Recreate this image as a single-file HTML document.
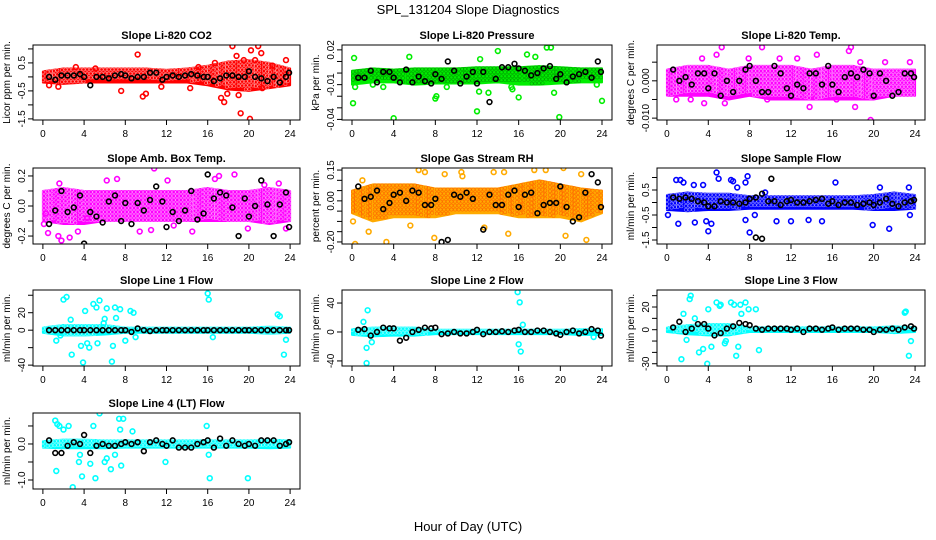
<!DOCTYPE html>
<html><head><meta charset="utf-8"><style>
html,body{margin:0;padding:0;background:#fff;}
svg{display:block;font-family:"Liberation Sans",sans-serif;}
</style></head><body>
<svg id="chart" width="936" height="540" viewBox="0 0 936 540" xmlns="http://www.w3.org/2000/svg">
<text x="468" y="14" text-anchor="middle" font-size="13">SPL_131204  Slope Diagnostics</text>
<text x="468" y="531" text-anchor="middle" font-size="13">Hour of Day (UTC)</text>
</svg>
<script>
const xTicks = [0,4,8,12,16,20,24];
const bandHours = [0,2,4,6,8,10,12,14,16,18,20,22,24];
const blackHours = [0.6,1.2,1.8,2.4,3.0,3.6,4.0,4.6,5.2,5.8,6.4,7.0,7.6,8.0,8.6,9.2,9.8,10.4,11.0,11.6,12.0,12.6,13.2,13.8,14.4,15.0,15.6,16.0,16.6,17.2,17.8,18.4,19.0,19.6,20.0,20.6,21.2,21.8,22.4,23.0,23.6,23.9];

const titles = ["Slope Li-820 CO2","Slope Li-820 Pressure","Slope Li-820 Temp.","Slope Amb. Box Temp.","Slope Gas Stream RH","Slope Sample Flow","Slope Line 1 Flow","Slope Line 2 Flow","Slope Line 3 Flow","Slope Line 4 (LT) Flow"];
const yLabels = ["Licor ppm per min.","kPa per min.","degrees C per min.","degrees C per min.","percent per min.","ml/min per min.","ml/min per min.","ml/min per min.","ml/min per min.","ml/min per min."];
const yLims = [[-1.54,1.14],[-0.0405,0.0242],[-0.0105,0.0096],[-0.253,0.253],[-0.21,0.16],[-1.66,1.38],[-41,46],[-47,58],[-32,35],[-1.25,0.86]];
const yTickVals = [[-1.5,-1,-0.5,0,0.5,1],[-0.04,-0.03,-0.02,-0.01,0,0.01,0.02],[-0.01,-0.005,0,0.005],[-0.2,-0.1,0,0.1,0.2],[-0.2,-0.15,-0.1,-0.05,0,0.05,0.1,0.15],[-1.5,-1,-0.5,0,0.5,1],[-40,-20,0,20,40],[-40,0,40],[-30,-20,-10,0,10,20,30],[-1,-0.5,0,0.5]];
const yTickText = [["-1.5","","-0.5","","0.5",""],["-0.04","","","-0.01","","","0.02"],["-0.010","","0.000",""],["-0.2","","0.0","","0.2"],["-0.20","","","","0.00","","","0.15"],["-1.5","","-0.5","","0.5",""],["-40","","0","20",""],["-40","0","40"],["-30","","","0","","20",""],["-1.0","","0.0",""]];
const colors = ["#ff0000","#00ee00","#ff00ff","#ff00ff","#ffaa00","#0000ff","#00ffff","#00ffff","#00ffff","#00ffff"];
const bandLo = [
[-0.2,-0.25,-0.2,-0.2,-0.2,-0.2,-0.2,-0.2,-0.3,-0.45,-0.5,-0.4,-0.3],
[-0.01,-0.008,-0.008,-0.01,-0.009,-0.009,-0.009,-0.008,-0.01,-0.01,-0.009,-0.008,-0.008],
[-0.004,-0.004,-0.004,-0.005,-0.004,-0.005,-0.005,-0.005,-0.005,-0.005,-0.005,-0.004,-0.004],
[-0.1,-0.12,-0.12,-0.1,-0.1,-0.1,-0.1,-0.1,-0.1,-0.1,-0.1,-0.12,-0.1],
[-0.06,-0.1,-0.08,-0.08,-0.08,-0.06,-0.06,-0.06,-0.08,-0.08,-0.08,-0.1,-0.06],
[-0.3,-0.35,-0.3,-0.3,-0.25,-0.25,-0.25,-0.25,-0.25,-0.25,-0.3,-0.3,-0.25],
[-3,-6,-6,-5,-3,-3,-3,-3,-3,-3,-3,-4,-3],
[-4,-6,-5,-5,-3,-3,-3,-3,-3,-3,-3,-4,-4],
[-2,-4,-5,-5,-2,-2,-2,-2,-2,-2,-2,-3,-2],
[-0.1,-0.12,-0.12,-0.12,-0.1,-0.1,-0.1,-0.1,-0.1,-0.1,-0.1,-0.12,-0.1]];
const bandHi = [
[0.2,0.3,0.3,0.3,0.3,0.3,0.25,0.3,0.4,0.55,0.6,0.5,0.3],
[0.002,0.004,0.003,0.004,0.004,0.004,0.005,0.005,0.005,0.006,0.005,0.004,0.004],
[0.003,0.004,0.004,0.003,0.004,0.004,0.004,0.003,0.004,0.004,0.003,0.003,0.003],
[0.1,0.12,0.1,0.1,0.1,0.1,0.1,0.1,0.12,0.1,0.1,0.12,0.1],
[0.05,0.08,0.08,0.08,0.06,0.06,0.06,0.06,0.08,0.1,0.08,0.06,0.05],
[0.3,0.4,0.35,0.35,0.25,0.25,0.25,0.25,0.25,0.25,0.3,0.4,0.3],
[3,6,6,6,3,3,3,3,3,3,3,4,3],
[4,6,6,6,3,3,3,3,3,3,3,4,4],
[2,4,5,5,2,2,2,2,2,2,2,3,2],
[0.08,0.12,0.12,0.1,0.1,0.1,0.1,0.1,0.1,0.1,0.1,0.12,0.1]];
const outliers = [
[[9.2,0.8],[0.6,-0.3],[1.5,-0.35],[7.6,-0.5],[9.7,-0.7],[10,-0.6],[17.3,-0.75],[17.6,-0.9],[18.4,1.1],[19,-0.65],[19.2,-1.3],[20.1,-1.5],[20.2,0.95],[20.9,1.1],[21.2,0.85],[19.5,0.6],[16.7,0.5],[23.6,0.6],[18.8,0.75],[20.6,0.6],[15.1,0.35],[22.3,0.4],[5.1,0.3],[3.2,0.35],[17.9,-0.6],[14.3,-0.4],[11.5,-0.35],[21.3,-0.4]],
[[0.1,-0.026],[0.2,0.013],[4,-0.039],[5.5,0.014],[8,-0.022],[8.1,-0.02],[12,-0.033],[12.3,0.012],[14,0.019],[16.8,0.016],[17.6,0.014],[18.7,0.022],[19.1,0.022],[19.9,-0.038],[24,-0.024],[16,-0.021],[19.4,-0.017],[12.2,-0.016],[13.1,-0.017],[0.3,-0.012],[2,-0.01],[3,-0.012],[9.1,-0.012],[15.3,-0.012],[15.4,-0.014],[23.5,-0.01]],
[[5.3,0.009],[9.2,0.009],[14.5,0.007],[17.6,0.008],[17.8,0.009],[19.7,-0.0105],[13.8,-0.007],[18.2,-0.007],[0.9,-0.005],[2.3,-0.005],[5.6,-0.006],[3.6,-0.006],[4.8,0.007],[12.6,0.006],[23.5,0.005],[7.9,0.006],[9.7,-0.005],[16.4,-0.005],[10.9,0.006],[3.4,0.006],[18.7,0.005],[21.1,0.005]],
[[10.8,0.25],[1.8,-0.23],[0.5,-0.18],[0.1,-0.12],[2.6,-0.21],[3.4,-0.17],[1.5,-0.2],[7.2,0.18],[17.1,0.2],[18.6,0.21],[16.7,0.18],[14.5,-0.17],[19.9,-0.15],[12.1,0.17],[23.6,-0.15],[6.2,0.17],[1.6,0.15],[4.3,-0.08],[9.4,-0.17],[10.5,-0.16],[22.9,0.15],[21.5,0.14],[0.3,-0.05],[12.7,-0.13]],
[[0.3,-0.21],[1.0,0.1],[3.3,-0.2],[6.4,0.15],[7,0.14],[7.9,-0.18],[8.9,0.13],[10.5,0.14],[13.6,0.14],[14.6,0.14],[15.3,-0.23],[15,-0.16],[17.5,0.15],[18.6,0.15],[20.3,0.16],[20.5,-0.17],[22.5,-0.19],[12.7,-0.13],[5.6,-0.12],[1.6,-0.15],[0.1,-0.1],[22,0.13],[10.6,0.12]],
[[0.9,0.9],[1.3,0.9],[1.6,0.8],[2.6,0.7],[3.5,0.7],[4.8,1.2],[5,0.95],[6.2,0.9],[6.4,0.85],[7.8,1.05],[7.6,0.8],[9.5,0.4],[16.3,0.8],[20.6,0.6],[4,-1.15],[8,-1.2],[3.8,-0.75],[4.3,-0.85],[2.7,-0.8],[1.1,-0.85],[10.6,-0.75],[12,-0.75],[13.7,-0.7],[15,-0.75],[19.9,-0.9],[21.5,-1.05],[0.1,-0.5],[7.6,-0.7],[8.5,-0.5],[23.4,0.6],[23.5,-0.5],[6.8,0.6]],
[[2,35],[2.3,38],[2.7,12],[3.7,-18],[3.9,-37],[2.8,-28],[4.1,22],[4.5,-20],[4.9,30],[5.2,26],[5.5,34],[6.2,25],[6.7,-36],[6.8,-18],[7,26],[7.5,24],[8.5,22],[8.8,20],[8,-12],[9,-8],[16,42],[16.1,35],[16.5,-8],[22.8,18],[23,16],[23.4,-28],[23.6,-11],[1.3,-12],[1.7,-6],[5.9,8],[6,13],[7.1,14],[4.3,-15],[5.3,-15]],
[[1.4,-22],[1.4,-43],[1.5,30],[1.1,14],[1.9,-14],[15.9,55],[16.1,41],[16,-17],[16.2,-27],[16.4,10],[23.2,-7]],
[[1.4,-26],[1.6,14],[2.2,27],[2.3,30],[2.7,10],[3.5,-17],[3.9,-30],[4,18],[4.3,-15],[4.8,24],[5.1,21],[5.2,22],[5.7,-10],[6.2,24],[6.5,22],[6.7,-23],[6.9,-15],[7.2,14],[7.1,22],[7.6,24],[7.9,18],[8.6,18],[8.9,-18],[1.9,-9],[23,15],[23.1,16],[23.4,-23],[23.6,-10],[3.1,-20],[5.6,-12]],
[[1.2,0.65],[1.4,0.55],[1.6,0.5],[2,0.4],[2.5,0.5],[3.8,-0.9],[3.5,-0.5],[2.9,-1.2],[1.3,-0.75],[4.6,-0.55],[5.1,-0.95],[5.5,0.85],[4.9,0.5],[6,-0.5],[6.2,-0.4],[6.6,-0.7],[7.4,0.7],[7.5,0.4],[7.6,-0.6],[7.8,0.7],[8.7,0.35],[11.9,-0.5],[15.9,0.5],[16.1,-0.3],[16.2,-0.95],[19.9,-0.95],[3.6,-0.3],[7,-0.3]]];
const blackVals = [
[0,-0.1,0.05,0.05,0.05,0.1,0,-0.3,0,0,-0.05,0.05,0.1,0.05,-0.05,0,0,0.15,0.15,-0.1,0,0.05,0,0.05,0.1,0.05,0,0,-0.15,-0.05,0.05,0.05,0,0,0.2,0,-0.05,-0.15,0,-0.2,0,0.15],
[-0.004,-0.004,0.002,-0.008,0.001,0.001,-0.004,-0.008,0.003,-0.008,-0.003,-0.007,-0.009,-0.001,-0.005,0.010,0.002,-0.009,-0.003,0.001,-0.009,0.001,-0.025,-0.005,0.005,0.005,0.008,0.004,0.002,-0.002,0,0.004,0.006,-0.005,-0.001,-0.008,-0.003,-0.001,0.001,-0.004,0.010,0.001],
[0.003,0,0.001,-0.001,0.002,0.002,-0.002,0.002,-0.004,0,-0.003,0,0.003,0.004,0,-0.003,-0.003,0.004,0.002,-0.002,-0.004,-0.001,-0.002,0.002,0.002,-0.001,0.004,-0.001,-0.003,0.001,0.002,0.001,0.003,0.002,-0.004,0.002,0,-0.004,-0.003,0.002,0.002,0.001],
[-0.12,-0.03,0.1,-0.04,-0.01,0.07,-0.25,-0.04,-0.07,-0.11,0.03,0.07,-0.1,0.02,-0.12,0.02,-0.03,0.04,0.13,0.03,-0.14,-0.04,-0.1,-0.03,0.1,-0.09,-0.05,0.21,0.05,0.09,0.07,-0.01,-0.2,0.05,-0.07,0,0.17,0.01,-0.2,0.01,0.09,-0.14],
[0.07,0.01,0.02,0.05,-0.04,-0.01,0.03,0.04,0,0.05,0.04,-0.02,-0.02,0.01,-0.2,-0.19,0.03,0.02,0.04,0.01,-0.24,-0.14,0.03,-0.02,-0.02,0.03,0.05,-0.03,0.03,0.04,-0.06,-0.02,-0.01,-0.01,0.07,-0.03,-0.1,-0.08,0.04,0.13,0.09,-0.03],
[0.2,0.15,0.2,0.15,0.05,0,-0.15,-0.15,0.05,0,0,-0.05,0,0.15,0.2,0.35,0.05,0.05,-0.1,0.05,0.1,0,0,0.05,0.1,0.15,-0.05,0.05,-0.1,0,0,-0.1,-0.05,0,-0.1,0,0.15,-0.05,-0.15,0,0.05,0.1],
[0,0,0,0,0,0,0,0,0,0,0,0,0,0,-2,2,0,-1,0,0,0,0,0,0,0,0,0,0,0,0,0,0,0,0,0,0,0,0,0,0,0,0],
[3,4,-5,0,6,5,5,-12,-8,0,3,6,5,6,-3,-2,0,-2,-2,0,3,-3,0,0,1,0,2,3,0,0,2,2,0,-2,-4,0,2,-2,0,4,2,-5],
[2,7,-2,1,5,5,1,-5,-3,1,3,6,5,4,1,0,1,1,1,1,0,1,-2,1,1,0,1,2,0,1,1,1,0,0,-2,0,0,1,0,2,3,1],
[0.1,-0.25,-0.25,-0.05,0.05,0,0.25,-0.25,-0.05,0,-0.05,-0.05,0,0.05,0,0.05,-0.2,0.05,0.1,0,-0.05,0.1,-0.1,-0.1,-0.1,0,0.05,0.1,-0.1,0.15,-0.05,0.1,0,-0.05,0,-0.05,0.1,0.1,0.1,-0.05,0,0.05]];
const blackExtra = [[],[],[],[],[],[[8.6,-1.4],[9.2,-1.45],[10.1,0.95]],[],[],[],[]];

const NS = "http://www.w3.org/2000/svg";
const svg = document.getElementById("chart");
const colBox = [[33,300],[342,612],[657,925]];
const rowBox = [[45,120],[168,244],[290,366],[413,489]];
function mk(tag, attrs, parent){const e=document.createElementNS(NS,tag);for(const k in attrs)e.setAttribute(k,attrs[k]);(parent||svg).appendChild(e);return e;}
function interp(arr,h){const i=Math.min(Math.floor(h/2),arr.length-2);const t=(h-bandHours[i])/2;return arr[i]*(1-t)+arr[i+1]*t;}

titles.forEach((title,p)=>{
  const c=p%3, r=Math.floor(p/3);
  const [L,R]=colBox[c], [T,B]=rowBox[r];
  const [y0,y1]=yLims[p];
  const xs=h=>L+(h+0.96)/25.92*(R-L);
  const ys=v=>B-(v-y0)/(y1-y0)*(B-T);
  const g=mk("g",{});
  
  
  const clip=mk("clipPath",{id:"clip"+p},g);
  mk("rect",{x:L,y:T,width:R-L,height:B-T},clip);
  const plot=mk("g",{"clip-path":"url(#clip"+p+")"},g);
  const col=colors[p];
  let pts=[];
  for(let h=0;h<=24.001;h+=0.5)pts.push(xs(h)+","+ys(interp(bandHi[p],h)));
  for(let h=24;h>=-0.001;h-=0.5)pts.push(xs(h)+","+ys(interp(bandLo[p],h)));
  const band=mk("polygon",{points:pts.join(" "),fill:col,stroke:col,"stroke-width":2,"stroke-linejoin":"round"},plot);
  
  
  const texture = p===1?"#006600":(p===4?"#ff3300":"#ffffff");
  for(let h=0;h<=24;h+=0.35){
    const lo=ys(interp(bandLo[p],h)), hi=ys(interp(bandHi[p],h));
    for(let yy=hi+1;yy<=lo-1;yy+=4){
      mk("circle",{cx:xs(h)+((yy|0)%2),cy:yy,r:1.6,fill:"none",stroke:texture,"stroke-width":0.6,opacity:0.55},plot);
    }
  }
  outliers[p].forEach(([h,v])=>{
    const m=mk("circle",{cx:xs(h),cy:ys(v),r:2.4,fill:"none",stroke:col,"stroke-width":1.6},plot);
    
    
  });
  blackVals[p].forEach((v,i)=>{
    if(i>=blackHours.length)return;
    const m=mk("circle",{cx:xs(blackHours[i]),cy:ys(v),r:2.4,fill:"none",stroke:"#000","stroke-width":1.6},plot);
    
    
  });
  blackExtra[p].forEach(([h,v])=>{
    const m=mk("circle",{cx:xs(h),cy:ys(v),r:2.4,fill:"none",stroke:"#000","stroke-width":1.6},plot);
    
    
  });
  const box=mk("rect",{x:L,y:T,width:R-L,height:B-T,fill:"none",stroke:"#000","stroke-width":1},g);
  
  
  const t=mk("text",{x:(L+R)/2,y:T-6,"text-anchor":"middle","font-size":"11","font-weight":"bold"},g);
  t.textContent=title;
  
  
  xTicks.forEach(h=>{
    mk("line",{x1:xs(h),x2:xs(h),y1:B,y2:B+5,stroke:"#000"},g);
    const tx=mk("text",{x:xs(h),y:B+17,"text-anchor":"middle","font-size":"10"},g);
    tx.textContent=String(h);
    
    
  });
  yTickVals[p].forEach((v,i)=>{
    const y=ys(v);
    mk("line",{x1:L-5,x2:L,y1:y,y2:y,stroke:"#000"},g);
    const lab=yTickText[p][i];
    if(lab){
      const tx=mk("text",{x:L-8,y:y,"text-anchor":"middle","font-size":"10",transform:"rotate(-90 "+(L-8)+" "+y+")"},g);
      tx.textContent=lab;
      
      
    }
  });
  const yl=mk("text",{x:L-23,y:(T+B)/2,"text-anchor":"middle","font-size":"10",transform:"rotate(-90 "+(L-23)+" "+((T+B)/2)+")"},g);
  yl.textContent=yLabels[p];
  
  
});
</script>
</body></html>
